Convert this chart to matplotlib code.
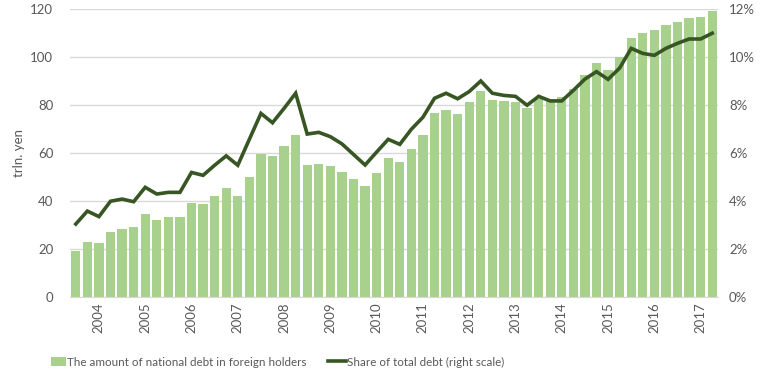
import numpy as np
import matplotlib.pyplot as plt
from matplotlib.ticker import FuncFormatter

plt.rcParams['font.family'] = ['Lato', 'DejaVu Sans']

# foreign holdings of national debt, trln. yen (quarterly)
debt = [19.3, 22.9, 22.5, 27.1, 28.3, 29.2, 34.6, 32.1, 33.3, 33.3,
        39.2, 38.8, 42.1, 45.4, 42.1, 50.0, 59.6, 58.8, 62.9, 67.5,
        55.0, 55.4, 54.6, 52.1, 49.2, 46.3, 51.7, 57.9, 56.3, 61.7,
        67.5, 76.7, 77.9, 76.3, 81.3, 85.8, 82.1, 81.7, 81.3, 78.8,
        82.5, 82.0, 83.3, 86.7, 92.5, 97.5, 94.6, 100.0, 107.9, 110.0,
        111.3, 113.3, 114.6, 116.3, 116.7, 119.2]
# share of total debt, %
share = [3.04, 3.58, 3.35, 3.99, 4.08, 3.97, 4.57, 4.29, 4.36, 4.36,
         5.19, 5.07, 5.49, 5.88, 5.49, 6.57, 7.65, 7.26, 7.86, 8.49,
         6.79, 6.86, 6.68, 6.38, 5.94, 5.50, 6.04, 6.57, 6.36, 6.99,
         7.49, 8.28, 8.49, 8.26, 8.56, 9.00, 8.49, 8.40, 8.36, 7.99,
         8.36, 8.17, 8.17, 8.61, 9.08, 9.39, 9.07, 9.54, 10.36, 10.15,
         10.07, 10.36, 10.57, 10.75, 10.75, 10.99]
years = [str(y) for y in range(2004, 2018)]

x = np.arange(len(debt))
txt = '#595959'

fig = plt.figure(figsize=(7.63, 3.84), dpi=100)
ax = fig.add_axes([70 / 763, 1 - 297 / 384, 648 / 763, 288 / 384])
ax2 = ax.twinx()

bars = ax.bar(x, debt, width=0.8, color='#a9d18e', zorder=2)
line, = ax2.plot(x, share, color='#375623', lw=2.6, solid_joinstyle='miter')

ax.set_xlim(-0.5, len(debt) - 0.5)
ax.set_ylim(0, 120)
ax2.set_ylim(0, 12)
ax.set_yticks(range(0, 121, 20))
ax2.set_yticks(range(0, 13, 2))
ax2.yaxis.set_major_formatter(FuncFormatter(lambda v, p: '%d%%' % v))
ax.grid(axis='y', color='#d9d9d9', lw=1, zorder=0)
ax.set_axisbelow(True)

ax.set_xticks(x[2::4])
ax.set_xticklabels(years, rotation=90)
for a in (ax, ax2):
    for s in a.spines.values():
        s.set_visible(False)
    a.tick_params(length=0, colors=txt, labelsize=9.5)
ax.spines['bottom'].set_visible(True)
ax.spines['bottom'].set_color('#d9d9d9')
ax.tick_params(axis='y', pad=12)
ax2.tick_params(axis='y', pad=8)
ax.tick_params(axis='x', pad=4)
ax.set_ylabel('trln. yen', color=txt, fontsize=9.5, labelpad=4)

ly = 1 - 362 / 384
fig.legend([bars], ['The amount of national debt in foreign holders'],
           loc='center left', bbox_to_anchor=(40 / 763, ly), frameon=False,
           fontsize=8.4, labelcolor=txt, handlelength=1.3, handleheight=0.9,
           handletextpad=0.15)
fig.legend([line], ['Share of total debt (right scale)'],
           loc='center left', bbox_to_anchor=(317 / 763, ly), frameon=False,
           fontsize=8.4, labelcolor=txt, handlelength=1.6, handletextpad=0.1)

fig.savefig('out.png', dpi=100)
